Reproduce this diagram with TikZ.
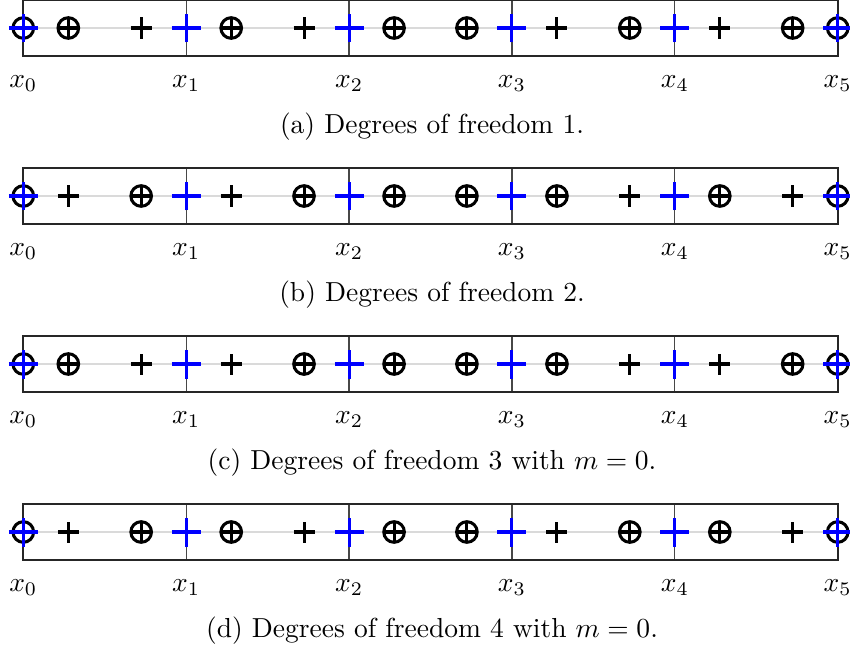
\documentclass[tikz,border=0pt]{standalone}
\usepackage{amsmath}
\definecolor{boxgray}{HTML}{262626}
\definecolor{gridgray}{HTML}{474747}
\definecolor{midgray}{HTML}{DADADA}
\tikzset{
  boxline/.style={draw=boxgray, line width=0.6pt},
  vline/.style={draw=gridgray, line width=0.45pt},
  midline/.style={draw=midgray, line width=0.5pt},
  mk/.style={line width=1.1pt},
  pics/dofo/.style={code={
    \draw[mk] (0,0) circle[radius=3.75pt];
    \draw[mk] (-3.75pt,0) -- (3.75pt,0) (0,-3.75pt) -- (0,3.75pt);}},
  pics/dofp/.style={code={
    \draw[mk] (-3.82pt,0) -- (3.82pt,0) (0,-3.82pt) -- (0,3.82pt);}},
  pics/bplus/.style={code={
    \draw[mk, blue] (-5.27pt,0) -- (5.27pt,0) (0,-5.27pt) -- (0,5.27pt);}},
  lbl/.style={anchor=base, inner sep=0pt},
  capt/.style={anchor=base, inner sep=0pt}
}
\newcommand\dofpanel[4]{%
  \draw[midline] (23.3,#1) -- (837.7,#1);
  \foreach \i in {1,...,4}{\draw[vline] ({23.3+162.88*\i},{#1-28}) -- ({23.3+162.88*\i},{#1+28});}
  \draw[boxline] (23.3,{#1-28}) rectangle (837.7,{#1+28});
  \pic at (23.3,#1) {dofo};
  \pic at (837.7,#1) {dofo};
  \foreach \s [count=\k from 0] in {#4}{%
    \pgfmathsetmacro\xx{23.3+162.88*(int(\k/2)+ifthenelse(mod(\k,2)==0,0.2764,0.7236))}
    \pic at (\xx,#1) {dof\s};}
  \foreach \i in {0,...,5}{\pic at ({23.3+162.88*\i},#1) {bplus};}
  \foreach \i in {0,...,5}{\node[lbl] (x\i-#2) at ({23.3+162.88*\i},{#1+59}) {$x_{\i}$};}
  \node[capt] (cap-#2) at (432,{#1+105}) {(#2) #3};
}
\begin{document}
\begin{tikzpicture}[x=0.3636pt,y=-0.3636pt]
\useasboundingbox (0,0) rectangle (850,650);
\dofpanel{28}{a}{Degrees of freedom 1.}{o,p,o,p,o,o,p,o,p,o}
\dofpanel{196}{b}{Degrees of freedom 2.}{p,o,p,o,o,o,o,p,o,p}
\dofpanel{364}{c}{Degrees of freedom 3 with $m=0$.}{o,p,p,o,o,o,o,p,p,o}
\dofpanel{532}{d}{Degrees of freedom 4 with $m=0$.}{p,o,o,p,o,o,p,o,o,p}
\end{tikzpicture}
\end{document}
